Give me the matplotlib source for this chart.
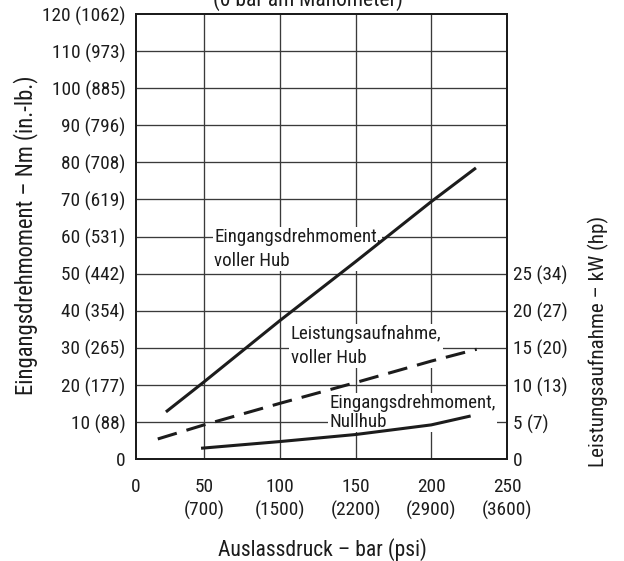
import numpy as np
import matplotlib
matplotlib.use("Agg")
import matplotlib.pyplot as plt
from matplotlib import font_manager

# ---- data -------------------------------------------------------------
# pressure axis (bar) with psi equivalents
x_ticks = [0, 50, 100, 150, 200, 250]
x_tick_labels = ["0", "50\n(700)", "100\n(1500)", "150\n(2200)", "200\n(2900)", "250\n(3600)"]

# torque axis: Nm (in.-lb.)
y_ticks = [0, 10, 20, 30, 40, 50, 60, 70, 80, 90, 100, 110, 120]
y_tick_labels = ["0", "10 (88)", "20 (177)", "30 (265)", "40 (354)", "50 (442)",
                 "60 (531)", "70 (619)", "80 (708)", "90 (796)", "100 (885)",
                 "110 (973)", "120 (1062)"]

# power axis: kW (hp)
p_ticks = [0, 5, 10, 15, 20, 25]
p_tick_labels = ["0", "5 (7)", "10 (13)", "15 (20)", "20 (27)", "25 (34)"]

# input torque, full stroke (Nm)
torque_full_x = [22, 50, 100, 150, 200, 229.5]
torque_full_y = [12.7, 20.8, 37.3, 53.2, 69.4, 78.5]

# power consumption, full stroke (kW)
power_full_x = [16, 50, 100, 150, 200, 230]
power_full_y = [2.7, 4.6, 7.5, 10.3, 13.2, 14.8]

# input torque, zero stroke (Nm)
torque_zero_x = [47.8, 100, 150, 200, 226]
torque_zero_y = [2.9, 4.7, 6.6, 9.2, 11.6]

# ---- font: prefer a narrow sans face ----------------------------------
def pick_font():
    narrow = []
    for f in font_manager.fontManager.ttflist:
        nm = f.name.lower()
        st = str(f.stretch).lower()
        is_narrow = ("narrow" in nm or "condensed" in nm or "condensed" in st)
        if is_narrow and f.style == "normal" and str(f.weight) in ("400", "normal", "regular", "book"):
            if "mono" in nm or "serif" in nm:
                continue
            narrow.append(f)
    if narrow:
        narrow.sort(key=lambda f: (0 if "liberation" in f.name.lower() else 1,
                                   0 if "roboto" in f.name.lower() else 1, f.name))
        return narrow[0].name, str(narrow[0].stretch)
    return "Liberation Sans", "normal"


FAMILY, STRETCH = pick_font()
plt.rcParams["font.family"] = [FAMILY, "DejaVu Sans"]
plt.rcParams["font.stretch"] = STRETCH

INK = "#1c1c1c"
GRID = "#3a3a3a"

W, H = 624, 561
fig = plt.figure(figsize=(W / 100, H / 100), dpi=100)
renderer = fig.canvas.get_renderer()


def extent(s, fs, ls=1.2):
    t = fig.text(0, 0, s, fontsize=fs, linespacing=ls)
    bb = t.get_window_extent(renderer)
    t.remove()
    return bb


def fit_size(s, target_px, fs0=20.0):
    """font size that makes string s span target_px pixels"""
    return fs0 * target_px / extent(s, fs0).width


def fit_spacing(s, fs, target_gap):
    """line spacing giving a baseline-to-baseline distance of target_gap px"""
    second = s.split("\n")[1]
    gap1 = extent(s, fs, 1.0).height - extent(second, fs, 1.0).height
    return target_gap / gap1


TICK_FS = fit_size("120 (1062)", 83)
CURVE_FS = fit_size("Eingangsdrehmoment,", 166)
YL_FS = fit_size("Eingangsdrehmoment – Nm (in.-lb.)", 318)
YR_FS = fit_size("Leistungsaufnahme – kW (hp)", 250)
XL_FS = fit_size("Auslassdruck – bar (psi)", 209)
TI_FS = fit_size("(0 bar am Manometer)", 190)

# the first pressure interval (0-50 bar) is drawn slightly narrower
K = 68.0 / 75.7


def fwd(x):
    x = np.asarray(x, dtype=float)
    return np.where(x < 50, x * K, x - 50 + 50 * K)


def inv(u):
    u = np.asarray(u, dtype=float)
    return np.where(u < 50 * K, u / K, u + 50 - 50 * K)


ax = fig.add_axes([136 / W, 1 - 459 / H, 371 / W, 445 / H])
ax.set_xscale("function", functions=(fwd, inv))
ax.set_xlim(0, 250)
ax.set_ylim(0, 120)

ax2 = ax.twinx()
ax2.set_ylim(0, 60)

# grid
for yv in y_ticks[1:-1]:
    ax.axhline(yv, color=GRID, lw=0.95, zorder=0.5)
for xv in x_ticks[1:-1]:
    ax.axvline(xv, color=GRID, lw=0.95, zorder=0.5)

for a in (ax, ax2):
    for s in a.spines.values():
        s.set_color(INK)
        s.set_linewidth(1.4)

ax.set_xticks(x_ticks)
ax.set_xticklabels(x_tick_labels, fontsize=TICK_FS, color=INK,
                   linespacing=fit_spacing("50\n(700)", TICK_FS, 24))
ax.set_yticks(y_ticks)
ax.set_yticklabels(y_tick_labels, fontsize=TICK_FS, color=INK)
ax.tick_params(axis="x", length=0, pad=13.5)
ax.tick_params(axis="y", length=0, pad=7.5)
ax.xaxis.set_minor_locator(matplotlib.ticker.NullLocator())

ax2.set_yticks(p_ticks)
ax2.set_yticklabels(p_tick_labels, fontsize=TICK_FS, color=INK)
ax2.tick_params(axis="y", length=0, pad=4)

ax.set_xlabel("Auslassdruck – bar (psi)", fontsize=XL_FS, color=INK)
ax.xaxis.set_label_coords(0.502, -0.178)
ax.xaxis.label.set_va("top")
ax.set_ylabel("Eingangsdrehmoment – Nm (in.-lb.)", fontsize=YL_FS, color=INK)
ax.yaxis.set_label_coords(-0.265, 0.503)
ax2.set_ylabel("Leistungsaufnahme – kW (hp)", fontsize=YR_FS, color=INK, rotation=90)
ax2.yaxis.set_label_coords(1.218, 0.265)

fig.text(308 / W, 1 - 6 / H, "(0 bar am Manometer)", fontsize=TI_FS, color=INK,
         ha="center", va="baseline")

# curve labels (white boxes mask the grid); y = baseline of the last line
box = dict(facecolor="white", edgecolor="none", pad=1.0)
lab1 = "Eingangsdrehmoment,\nvoller Hub"
lab2 = "Leistungsaufnahme,\nvoller Hub"
lab3 = "Eingangsdrehmoment,\nNullhub"
ax.text(56.6, 52.0, lab1, fontsize=CURVE_FS, color=INK, ha="left", va="baseline",
        linespacing=fit_spacing(lab1, CURVE_FS, 26), bbox=box, zorder=2)
ax.text(107.2, 26.0, lab2, fontsize=CURVE_FS, color=INK, ha="left", va="baseline",
        linespacing=fit_spacing(lab2, CURVE_FS, 24.7), bbox=box, zorder=2)
ax.text(132.5, 8.7, lab3, fontsize=CURVE_FS, color=INK, ha="left", va="baseline",
        linespacing=fit_spacing(lab3, CURVE_FS, 18.5), bbox=box, zorder=2)

# curves
ax.plot(torque_full_x, torque_full_y, color=INK, lw=2.2, solid_capstyle="butt", zorder=3)
ax.plot(torque_zero_x, torque_zero_y, color=INK, lw=2.2, solid_capstyle="butt", zorder=3)
ax2.plot(power_full_x, power_full_y, color=INK, lw=2.2, linestyle=(0, (6.5, 3.3)),
         dash_capstyle="butt", zorder=3)

fig.savefig("out.png", dpi=100)
